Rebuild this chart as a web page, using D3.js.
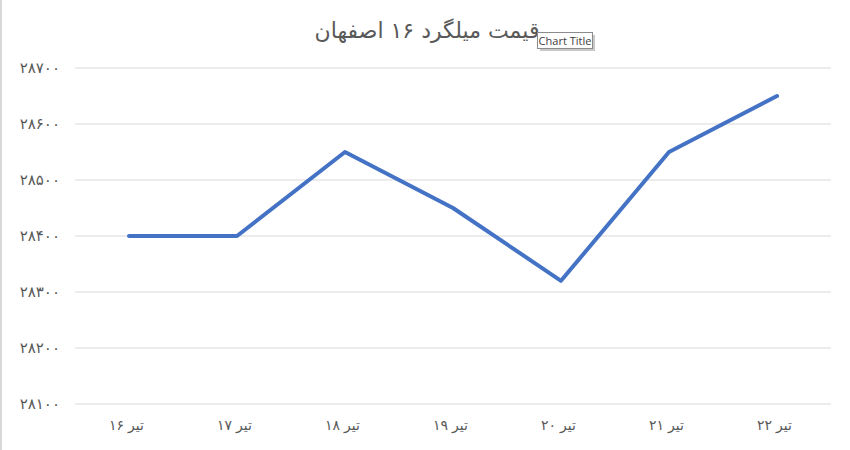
<!DOCTYPE html>
<html>
  <head>
    <meta charset="utf-8">
    <title>قیمت میلگرد</title>
    <style>
      body {margin:0; background:#fff;}
      svg {display:block;}
      .title {font-family:"DejaVu Sans", sans-serif; font-size:22px; fill:#595959;}
      .axis text {font-family:"DejaVu Sans", sans-serif; font-size:14px; fill:#595959;}
      .yaxis text {font-size:15px;}
      .grid line {stroke:#d9d9d9; stroke-width:1px;}
      .tip text {font-family:"Open Sans", sans-serif; font-size:11px; fill:#404040;}
    </style>
    <script src="https://cdn.jsdelivr.net/npm/d3@7"></script>
  </head>
  <body>
    <svg id="chart" width="850" height="450"></svg>
    <script>
      var days   = ["۱۶","۱۷","۱۸","۱۹","۲۰","۲۱","۲۲"];
      var month  = "تیر";
      var prices = [28400, 28400, 28550, 28450, 28320, 28550, 28650];
      var yTicks = [28100, 28200, 28300, 28400, 28500, 28600, 28700];
      var chartTitle = "قیمت میلگرد ۱۶ اصفهان";

      var margin = {top: 68, right: 19, bottom: 46, left: 75};
      var width  = 850, height = 450;
      var svg = d3.select("#chart");

      var faDigits = "۰۱۲۳۴۵۶۷۸۹";
      function toFa(n) {
        return String(n).replace(/[0-9]/g, function(c) {return faDigits[+c];});
      }

      var x = d3.scaleBand()
                .domain(days)
                .range([margin.left, width - margin.right]);
      var y = d3.scaleLinear()
                .domain([28100, 28700])
                .range([height - margin.bottom, margin.top]);

      // chart area left border
      svg.append("rect")
         .attr("x", 0).attr("y", 0)
         .attr("width", 2).attr("height", height)
         .style("fill", "#d9d9d9");

      // horizontal gridlines
      svg.append("g")
         .attr("class", "grid")
         .selectAll("line")
         .data(yTicks)
         .enter()
         .append("line")
         .attr("x1", margin.left)
         .attr("x2", width - margin.right)
         .attr("y1", function(d) {return y(d);})
         .attr("y2", function(d) {return y(d);});

      // y axis labels
      var yAxis = d3.axisLeft(y)
                    .tickValues(yTicks)
                    .tickSize(0)
                    .tickPadding(15)
                    .tickFormat(toFa);
      svg.append("g")
         .attr("class", "axis yaxis")
         .attr("transform", "translate(" + margin.left + ",0)")
         .call(yAxis)
         .call(function(g) {g.select(".domain").remove();});

      // x axis labels: day number on the left, month name on the right
      var xAxis = d3.axisBottom(x).tickSize(0).tickPadding(16);
      var xg = svg.append("g")
                  .attr("class", "axis")
                  .attr("transform", "translate(0," + (height - margin.bottom) + ")")
                  .call(xAxis)
                  .call(function(g) {g.select(".domain").remove();});
      xg.selectAll(".tick text")
        .attr("text-anchor", "end")
        .attr("x", -5);
      xg.selectAll(".tick")
        .append("text")
        .attr("fill", "currentColor")
        .attr("y", 16)
        .attr("dy", "0.71em")
        .attr("x", -1)
        .attr("text-anchor", "start")
        .text(month);

      // price line
      var line = d3.line()
                   .x(function(d, i) {return x(days[i]) + x.bandwidth() / 2;})
                   .y(function(d) {return y(d);});
      svg.append("path")
         .datum(prices)
         .attr("d", line)
         .style("fill", "none")
         .style("stroke", "#4472c4")
         .style("stroke-width", 4)
         .style("stroke-linejoin", "round")
         .style("stroke-linecap", "round");

      // title
      svg.append("text")
         .attr("class", "title")
         .attr("x", 427)
         .attr("y", 38)
         .attr("text-anchor", "middle")
         .attr("direction", "rtl")
         .text(chartTitle);

      // "Chart Title" tooltip
      var tip = svg.append("g").attr("class", "tip");
      tip.append("rect")
         .attr("x", 540).attr("y", 35)
         .attr("width", 55).attr("height", 16)
         .style("fill", "#c8c8c8");
      tip.append("rect")
         .attr("x", 537.5).attr("y", 32.5)
         .attr("width", 55).attr("height", 16)
         .style("fill", "#ffffff")
         .style("stroke", "#8c8c8c");
      tip.append("text")
         .attr("x", 565).attr("y", 45)
         .attr("text-anchor", "middle")
         .text("Chart Title");
    </script>
  </body>
</html>
